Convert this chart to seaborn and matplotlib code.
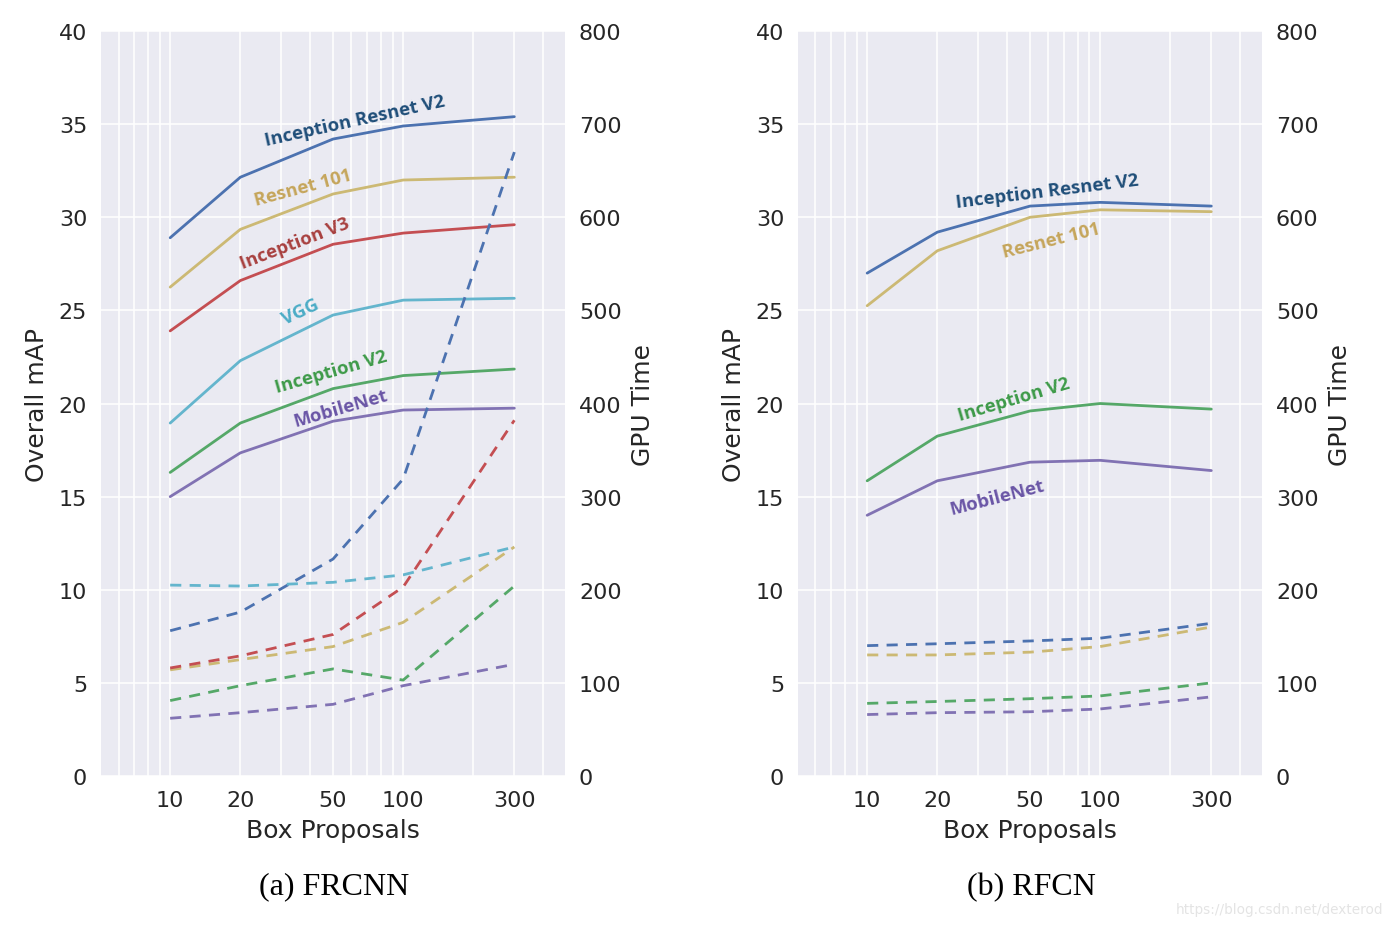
import numpy as np
import pandas as pd
import matplotlib
matplotlib.use("Agg")
import matplotlib.pyplot as plt
import seaborn as sns
from matplotlib.ticker import NullFormatter

# ---------------- data ----------------
boxes = [10, 20, 50, 100, 300]

# FRCNN - overall mAP (left axis)
frcnn_map = {
    "Inception Resnet V2": [28.9, 32.15, 34.2, 34.9, 35.4],
    "Resnet 101": [26.25, 29.35, 31.25, 32.0, 32.15],
    "Inception V3": [23.9, 26.6, 28.55, 29.15, 29.6],
    "VGG": [18.95, 22.3, 24.75, 25.55, 25.65],
    "Inception V2": [16.3, 18.95, 20.8, 21.5, 21.85],
    "MobileNet": [15.0, 17.35, 19.05, 19.65, 19.75],
}
# FRCNN - GPU time (right axis)
frcnn_gpu = {
    "Inception Resnet V2": [156, 176, 233, 319, 670],
    "Resnet 101": [114, 125, 139, 165, 246],
    "Inception V3": [116, 129, 152, 203, 382],
    "VGG": [205, 204, 208, 216, 246],
    "Inception V2": [81, 97, 115, 103, 204],
    "MobileNet": [62, 68, 77, 97, 120],
}

# RFCN - overall mAP
rfcn_map = {
    "Inception Resnet V2": [27.0, 29.2, 30.6, 30.8, 30.6],
    "Resnet 101": [25.25, 28.2, 30.0, 30.4, 30.3],
    "Inception V2": [15.85, 18.25, 19.6, 20.0, 19.7],
    "MobileNet": [14.0, 15.85, 16.85, 16.95, 16.4],
}
# RFCN - GPU time
rfcn_gpu = {
    "Inception Resnet V2": [140, 142, 145, 148, 164],
    "Resnet 101": [130, 130, 133, 139, 160],
    "Inception V2": [78, 80, 83, 86, 100],
    "MobileNet": [66, 68, 69, 72, 85],
}

xticks = [10, 20, 50, 100, 300]
map_ticks = [0, 5, 10, 15, 20, 25, 30, 35, 40]
gpu_ticks = [0, 100, 200, 300, 400, 500, 600, 700, 800]
captions = ["(a) FRCNN", "(b) RFCN"]

# ---------------- style ----------------
sns.set_theme(style="darkgrid")
pal = sns.color_palette("deep6")
line_colors = {
    "Inception Resnet V2": pal[0],
    "Inception V2": pal[1],
    "Inception V3": pal[2],
    "MobileNet": pal[3],
    "Resnet 101": pal[4],
    "VGG": pal[5],
}
text_colors = {
    "Inception Resnet V2": "#1f4e79",
    "Resnet 101": "#c5a55a",
    "Inception V3": "#a8403f",
    "VGG": "#4bacc6",
    "Inception V2": "#3d9a48",
    "MobileNet": "#6a55a6",
}

# label placements (x, y, rotation) in data coords of the left axis
frcnn_labels = {
    "Inception Resnet V2": (62, 35.2, 12.5),
    "Resnet 101": (37, 31.6, 15),
    "Inception V3": (34.4, 28.65, 21),
    "VGG": (36.2, 24.95, 25),
    "Inception V2": (49, 21.7, 16),
    "MobileNet": (53.7, 19.75, 16),
}
rfcn_labels = {
    "Inception Resnet V2": (59, 31.4, 7),
    "Resnet 101": (61.6, 28.8, 14),
    "Inception V2": (42.8, 20.25, 16.5),
    "MobileNet": (36.1, 15.0, 14.5),
}

fig = plt.figure(figsize=(13.92, 9.28), dpi=100)
ax_a = fig.add_axes([0.0726, 0.1627, 0.3333, 0.8028])
ax_b = fig.add_axes([0.5733, 0.1627, 0.3333, 0.8028])

TICK_FS = 16
LABEL_FS = 18


def draw_panel(ax, maps, gpus, labels, caption):
    ax2 = ax.twinx()
    for name, vals in maps.items():
        sns.lineplot(x=boxes, y=vals, ax=ax, color=line_colors[name], lw=2.0)
    for name, vals in gpus.items():
        sns.lineplot(x=boxes, y=vals, ax=ax2, color=line_colors[name], lw=2.0,
                     linestyle=(0, (4, 3)))
    for ax_ in (ax, ax2):
        ax_.set_xscale("log")
        ax_.set_xlim(5.05, 495)
    ax.set_ylim(0, 40)
    ax2.set_ylim(0, 800)
    ax.grid(True, which="both", color="white", lw=1.1)
    ax2.grid(False)
    ax.set_xticks(xticks)
    ax.set_xticklabels([str(t) for t in xticks])
    ax.xaxis.set_minor_formatter(NullFormatter())
    ax.set_yticks(map_ticks)
    ax.set_yticklabels([str(t) for t in map_ticks])
    ax2.set_yticks(gpu_ticks)
    ax2.set_yticklabels([str(t) for t in gpu_ticks])
    for ax_ in (ax, ax2):
        ax_.tick_params(which="both", length=0, labelsize=TICK_FS, pad=10,
                        labelcolor="#262626")
        for s in ax_.spines.values():
            s.set_visible(False)
    ax.set_xlabel("Box Proposals", fontsize=LABEL_FS, color="#262626", labelpad=6)
    ax.set_ylabel("Overall mAP", fontsize=LABEL_FS, color="#262626", labelpad=7)
    ax2.set_ylabel("GPU Time", fontsize=LABEL_FS, color="#262626", labelpad=7)
    for name, (x, y, rot) in labels.items():
        ax.text(x, y, name, color=text_colors[name], fontsize=13.3,
                fontweight="bold", family="Open Sans", rotation=rot,
                rotation_mode="anchor", ha="center", va="center")
    bb = ax.get_position()
    fig.text((bb.x0 + bb.x1) / 2 + 0.001, 0.044, caption, ha="center", va="center",
             family="Liberation Serif", fontsize=23, color="black")


draw_panel(ax_a, frcnn_map, frcnn_gpu, frcnn_labels, captions[0])
draw_panel(ax_b, rfcn_map, rfcn_gpu, rfcn_labels, captions[1])

fig.text(0.994, 0.019, "https://blog.csdn.net/dexterod", ha="right", va="center",
         fontsize=9.8, color="#e4e4e4")

fig.savefig("out.png", dpi=100, facecolor="white")
